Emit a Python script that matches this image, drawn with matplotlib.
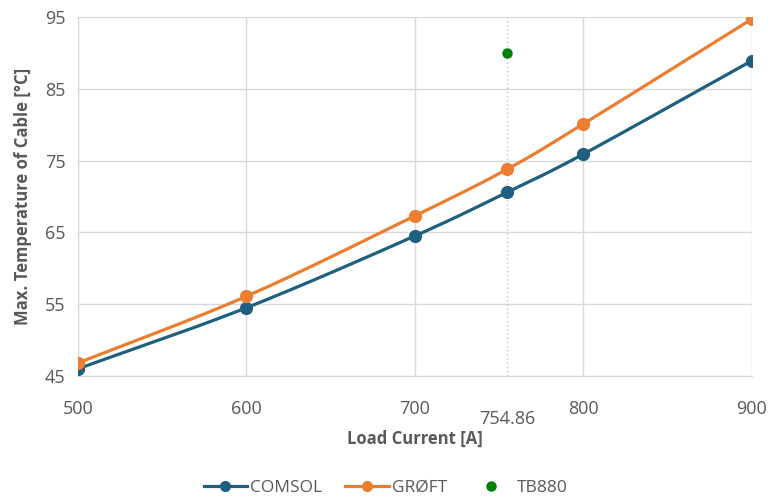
import numpy as np
import matplotlib.pyplot as plt
from matplotlib.lines import Line2D

# data
current = [500, 600, 700, 754.86, 800, 900]
comsol = [46.0, 54.5, 64.5, 70.6, 75.9, 88.9]
groft = [46.8, 56.1, 67.3, 73.8, 80.1, 94.7]
tb880_x = [754.86]
tb880_y = [90.0]
xticks = [500, 600, 700, 800, 900]
yticks = [45, 55, 65, 75, 85, 95]


def smooth(x, y, n=30):
    # catmull-rom through the points, like excel's smoothed line
    x = np.asarray(x, float)
    y = np.asarray(y, float)
    px = np.concatenate([[2 * x[0] - x[1]], x, [2 * x[-1] - x[-2]]])
    py = np.concatenate([[2 * y[0] - y[1]], y, [2 * y[-1] - y[-2]]])
    xs, ys = [], []
    t = np.linspace(0, 1, n)
    for i in range(1, len(px) - 2):
        for p, out in ((px, xs), (py, ys)):
            p0, p1, p2, p3 = p[i - 1], p[i], p[i + 1], p[i + 2]
            out.extend(0.5 * (2 * p1 + (-p0 + p2) * t
                              + (2 * p0 - 5 * p1 + 4 * p2 - p3) * t ** 2
                              + (-p0 + 3 * p1 - 3 * p2 + p3) * t ** 3))
    return np.array(xs), np.array(ys)


plt.rcParams['font.family'] = ['Open Sans', 'DejaVu Sans']

blue = '#1f5f80'
orange = '#ed7d31'
green = '#008000'
grey = '#595959'

fig = plt.figure(figsize=(7.71, 5.0), dpi=100)
ax = fig.add_axes([0.101, 0.248, 0.874, 0.718])

ax.axvline(754.86, color='#bfbfbf', lw=1, ls=(0, (1, 2)), zorder=1)

sx, sy = smooth(current, comsol)
ax.plot(sx, sy, color=blue, lw=2.3, zorder=3)
ax.plot(current, comsol, 'o', color=blue, ms=8.5, zorder=4)
sx, sy = smooth(current, groft)
ax.plot(sx, sy, color=orange, lw=2.3, zorder=3)
ax.plot(current, groft, 'o', color=orange, ms=8.5, zorder=4)
ax.plot(tb880_x, tb880_y, 'o', color=green, ms=6.5, zorder=4)

ax.set_xlim(500, 900)
ax.set_ylim(45, 95)
ax.set_xticks(xticks)
ax.set_yticks(yticks)
ax.grid(True, color='#d9d9d9', lw=1)
ax.set_axisbelow(True)
ax.tick_params(length=0, labelsize=13, colors=grey, pad=17)
ax.tick_params(axis='y', pad=9)
ax.text(754.86, -0.095, '754.86', transform=ax.get_xaxis_transform(),
        ha='center', va='top', fontsize=13, color=grey)
for s in ['top', 'right']:
    ax.spines[s].set_visible(False)
for s in ['left', 'bottom']:
    ax.spines[s].set_color('#d9d9d9')

ax.set_xlabel('Load Current [A]', fontsize=12, fontweight='bold', color=grey, labelpad=9)
ax.set_ylabel('Max. Temperature of Cable [°C]', fontsize=12, fontweight='bold', color=grey, labelpad=9)

handles = [
    Line2D([], [], color=blue, lw=2.3, marker='o', ms=7),
    Line2D([], [], color=orange, lw=2.3, marker='o', ms=7),
    Line2D([], [], color=green, lw=0, marker='o', ms=6.5),
]
fig.legend(handles, ['COMSOL', 'GRØFT', 'TB880'], loc='center', bbox_to_anchor=(0.5, 0.024),
           ncol=3, frameon=False, fontsize=12.5, labelcolor=grey, handlelength=2.5,
           handletextpad=0.2, columnspacing=1.3)

fig.savefig('out.png', dpi=100)
